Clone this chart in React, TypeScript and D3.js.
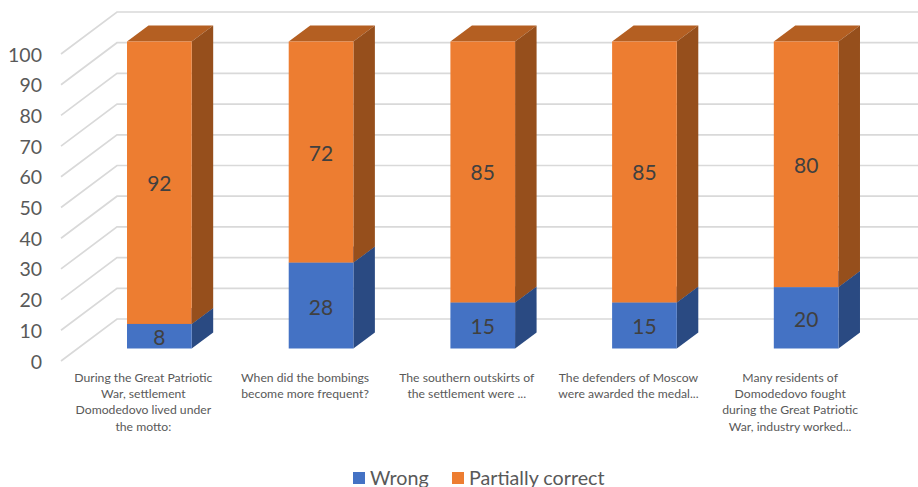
import React from "react";
import * as d3 from "d3";

const categories = [
  ["During the Great Patriotic", "War, settlement", "Domodedovo lived under", "the motto:"],
  ["When did the bombings", "become more frequent?"],
  ["The southern outskirts of", "the settlement were ..."],
  ["The defenders of Moscow", "were awarded the medal..."],
  ["Many residents of", "Domodedovo fought", "during the Great Patriotic", "War, industry worked..."],
];
const wrong = [8, 28, 15, 15, 20];
const partiallyCorrect = [92, 72, 85, 85, 80];
const ticks = [0, 10, 20, 30, 40, 50, 60, 70, 80, 90, 100];

const FONT = "Lato, Carlito, Calibri, sans-serif";
const W = 918;
const H = 487;
const DX = 21.5;
const DY = -16;

const y = d3.scaleLinear().domain([0, 100]).range([348.5, 41.5]);
const x = d3
  .scaleBand<number>()
  .domain(d3.range(categories.length))
  .range([78.5, 887])
  .paddingInner(0.6)
  .paddingOuter(0.3);

const wallY = (v: number) => y(v) - 29.5;
const floorFrontY = (v: number) => y(v) + 12.5;

const palettes = [
  { front: "#4472c4", top: "#3a62a8", side: "#2a4a82" },
  { front: "#ed7d31", top: "#b45f22", side: "#964f1c" },
];

const poly = (pts: [number, number][]) => d3.line()(pts) + "Z";

function Segment({ i, from, to, p }: { i: number; from: number; to: number; p: (typeof palettes)[0] }) {
  const x0 = x(i)!;
  const x1 = x0 + x.bandwidth();
  const y0 = y(from);
  const y1 = y(to);
  return (
    <g>
      <path d={poly([[x0, y1], [x0 + DX, y1 + DY], [x1 + DX, y1 + DY], [x1, y1]])} fill={p.top} />
      <path d={poly([[x1, y0], [x1 + DX, y0 + DY], [x1 + DX, y1 + DY], [x1, y1]])} fill={p.side} />
      <rect x={x0} y={y1} width={x1 - x0} height={y0 - y1} fill={p.front} />
    </g>
  );
}

export default function App() {
  return (
    <svg
      width={W}
      height={H}
      viewBox={`0 0 ${W} ${H}`}
      style={{ position: "absolute", left: 0, top: 0, background: "#fff", fontFamily: FONT }}
    >
      {/* Receding gridlines along the side wall and back wall */}
      {ticks.map((t) => (
        <path
          key={t}
          d={d3.line()([[61, floorFrontY(t)], [117, wallY(t)], [W, wallY(t)]]) ?? ""}
          fill="none"
          stroke="#d9d9d9"
          strokeWidth={1.7}
        />
      ))}

      {ticks.map((t) => (
        <text
          key={t}
          x={42}
          y={floorFrontY(t)}
          textAnchor="end"
          dominantBaseline="central"
          fontSize={19.5}
          fill="#595959"
        >
          {t}
        </text>
      ))}

      {/* Stacked 3D columns */}
      {categories.map((_, i) => (
        <g key={i}>
          <Segment i={i} from={0} to={wrong[i]} p={palettes[0]} />
          <Segment i={i} from={wrong[i]} to={wrong[i] + partiallyCorrect[i]} p={palettes[1]} />
          <text
            x={x(i)! + x.bandwidth() / 2}
            y={y(wrong[i] / 2) + 0.5}
            textAnchor="middle"
            dominantBaseline="central"
            fontSize={21}
            fill="#404040"
          >
            {wrong[i]}
          </text>
          <text
            x={x(i)! + x.bandwidth() / 2}
            y={y(wrong[i] + partiallyCorrect[i] / 2)}
            textAnchor="middle"
            dominantBaseline="central"
            fontSize={21}
            fill="#404040"
          >
            {partiallyCorrect[i]}
          </text>
        </g>
      ))}

      {/* Category labels */}
      {categories.map((lines, i) => (
        <text key={i} textAnchor="middle" fontSize={12.2} fill="#595959">
          {lines.map((l, k) => (
            <tspan key={k} x={x(i)! + x.bandwidth() / 2 - 16} y={382 + k * 16.2}>
              {l}
            </tspan>
          ))}
        </text>
      ))}

      {/* Legend */}
      <rect x={353} y={472} width={12} height={12} fill={palettes[0].front} />
      <text x={370} y={484.5} fontSize={19.7} fill="#595959">
        Wrong
      </text>
      <rect x={452} y={472} width={12} height={12} fill={palettes[1].front} />
      <text x={469} y={484.5} fontSize={19.7} fill="#595959">
        Partially correct
      </text>
    </svg>
  );
}
